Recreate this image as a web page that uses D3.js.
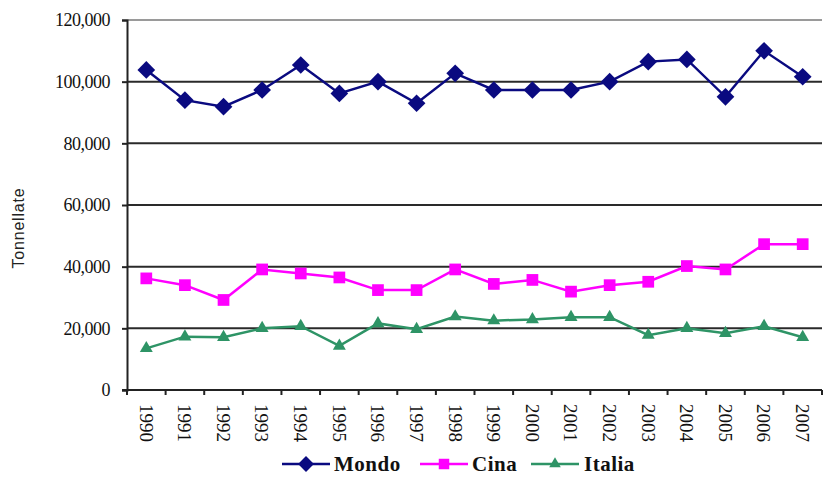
<!DOCTYPE html>
<html>
<head>
<meta charset="utf-8">
<script src="https://cdn.jsdelivr.net/npm/d3@7"></script>
<style>
  html, body { margin: 0; padding: 0; background: #fff; }
  svg { display: block; }
</style>
</head>
<body>
<svg id="chart" width="829" height="493"></svg>
<script>
// Production by year, in tonnes
const years = ["1990","1991","1992","1993","1994","1995","1996","1997","1998","1999",
               "2000","2001","2002","2003","2004","2005","2006","2007"];
const mondo  = [103800, 94000, 91900, 97300, 105400, 96200, 100000, 93000, 102700, 97300,
                97300, 97300, 100000, 106500, 107200, 95100, 110000, 101600];
const cina   = [36200, 34000, 29200, 39100, 37800, 36500, 32400, 32400, 39100, 34400,
                35700, 31900, 34000, 35100, 40200, 39100, 47300, 47300];
const italia = [13500, 17300, 17100, 20000, 20700, 14300, 21600, 19700, 23800, 22500,
                22900, 23600, 23600, 17800, 20000, 18400, 20700, 17100];
const yTicks = [0, 20000, 40000, 60000, 80000, 100000, 120000];
const seriesNames = ["Mondo", "Cina", "Italia"];

const series = [
  { name: seriesNames[0], values: mondo,  color: "#0a0a80", symbol: d3.symbolDiamond2,  size: 200 },
  { name: seriesNames[1], values: cina,   color: "#ff00ff", symbol: d3.symbolSquare2,   size: 175 },
  { name: seriesNames[2], values: italia, color: "#2e9466", symbol: d3.symbolTriangle2, size: 120 }
];

const svg = d3.select("#chart");
const margin = { left: 127, right: 7, top: 20, bottom: 103 };
const W = 829, H = 493;

const x = d3.scaleBand().domain(years).range([margin.left, W - margin.right]);
const y = d3.scaleLinear().domain([0, 120000]).range([H - margin.bottom, margin.top]);

const fmt = v => v === 0 ? "0" : d3.format(",")(v);

// horizontal gridlines
svg.append("g")
  .selectAll("line")
  .data(yTicks.filter(t => t > 0))
  .join("line")
  .attr("x1", margin.left).attr("x2", W - margin.right)
  .attr("y1", d => y(d)).attr("y2", d => y(d))
  .attr("stroke", d => d === 120000 ? "#9a9a9a" : "#2a2a2a")
  .attr("stroke-width", 2);

// y axis
const yAxis = svg.append("g")
  .attr("transform", `translate(${margin.left},0)`)
  .call(d3.axisLeft(y).tickValues(yTicks).tickFormat(fmt).tickSize(5).tickPadding(12));
yAxis.select(".domain").attr("stroke", "#222").attr("stroke-width", 2);
yAxis.selectAll(".tick line").attr("stroke", "#222").attr("stroke-width", 2);
yAxis.selectAll("text")
  .attr("font-family", "'Liberation Serif', 'Times New Roman', serif")
  .attr("font-size", 18).attr("fill", "#111")
  .attr("letter-spacing", "-0.5");

// x axis with ticks at category boundaries
const xg = svg.append("g").attr("transform", `translate(0,${y(0)})`);
xg.append("line")
  .attr("x1", margin.left - 5).attr("x2", W - margin.right)
  .attr("stroke", "#222").attr("stroke-width", 2);
xg.selectAll("line.tk")
  .data(years.concat(["end"]))
  .join("line")
  .attr("class", "tk")
  .attr("x1", (d, i) => margin.left + i * x.step())
  .attr("x2", (d, i) => margin.left + i * x.step())
  .attr("y1", 0).attr("y2", 5)
  .attr("stroke", "#222").attr("stroke-width", 2);
xg.selectAll("text")
  .data(years)
  .join("text")
  .attr("transform", d => `translate(${x(d) + x.bandwidth() / 2},14) rotate(90)`)
  .attr("dy", "0.35em")
  .attr("font-family", "'Liberation Serif', 'Times New Roman', serif")
  .attr("font-size", 19).attr("fill", "#111")
  .text(d => d);

// y axis title
svg.append("text")
  .attr("transform", "translate(24,228) rotate(-90)")
  .attr("text-anchor", "middle")
  .attr("font-family", "'Liberation Sans', Arial, sans-serif")
  .attr("font-size", 16).attr("fill", "#222")
  .attr("letter-spacing", "0.8")
  .text("Tonnellate");

// series lines and markers
const line = d3.line()
  .x((d, i) => x(years[i]) + x.bandwidth() / 2)
  .y(d => y(d));

series.forEach(s => {
  const g = svg.append("g");
  g.append("path")
    .attr("d", line(s.values))
    .attr("fill", "none")
    .attr("stroke", s.color)
    .attr("stroke-width", 2.5);
  g.selectAll("path.m")
    .data(s.values)
    .join("path")
    .attr("class", "m")
    .attr("d", d3.symbol().type(s.symbol).size(s.size))
    .attr("transform", (d, i) => `translate(${x(years[i]) + x.bandwidth() / 2},${y(d)})`)
    .attr("fill", s.color);
});

// legend
const legendItems = [
  { s: series[0], x0: 282, tx: 334 },
  { s: series[1], x0: 420, tx: 472 },
  { s: series[2], x0: 531, tx: 584 }
];
const lg = svg.append("g").attr("transform", "translate(0,464)");
legendItems.forEach(it => {
  lg.append("line")
    .attr("x1", it.x0).attr("x2", it.x0 + 48)
    .attr("stroke", it.s.color).attr("stroke-width", 2.5);
  lg.append("path")
    .attr("d", d3.symbol().type(it.s.symbol).size(it.s.size * 0.8))
    .attr("transform", `translate(${it.x0 + 24},0)`)
    .attr("fill", it.s.color);
  lg.append("text")
    .attr("x", it.tx).attr("dy", "0.35em")
    .attr("font-family", "'Liberation Serif', 'Times New Roman', serif")
    .attr("font-weight", "bold")
    .attr("font-size", 21).attr("fill", "#111")
    .attr("letter-spacing", "0.5")
    .text(it.s.name);
});
</script>
</body>
</html>
